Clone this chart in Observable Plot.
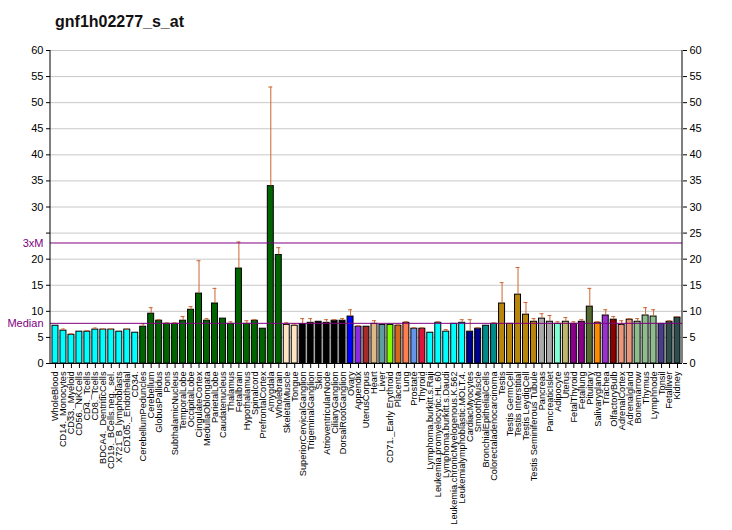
<!DOCTYPE html>
<html>
<head>
<meta charset="utf-8">
<script src="https://cdn.jsdelivr.net/npm/d3@7"></script>
<script src="https://cdn.jsdelivr.net/npm/@observablehq/plot@0.6"></script>
<style>
  body { margin: 0; background: #fff; font-family: "Liberation Sans", Arial, sans-serif; }
  #wrap { position: relative; width: 732px; height: 530px; }
  #title { position: absolute; left: 55px; top: 13px; font-size: 16px; font-weight: bold; color: #111; }
  #chart { position: absolute; left: 0; top: 0; }
</style>
</head>
<body>
<div id="wrap">
  <div id="chart"></div>
  <div id="title">gnf1h02277_s_at</div>
</div>
<script>
const names = ["WholeBlood","CD14._Monocytes","CD33._Myeloid","CD56._NKCells","CD4._Tcells","CD8._Tcells","BDCA4._DentriticCells","CD19._BCells.neg._sel.","X721_B_lymphoblasts","CD105._Endothelial","CD34.",
"CerebellumPeduncles","Cerebellum","GlobusPallidus","Pons","SubthalamicNucleus","TemporalLobe","OccipitalLobe","CingulateCortex","MedullaOblongata","ParietalLobe","Caudatenucleus","Thalamus","Fetalbrain","Hypothalamus","Spinalcord","PrefrontalCortex","Amygdala","Wholebrain",
"SkeletalMuscle","Tongue","SuperiorCervicalGanglion","TrigeminalGanglion","Skin","AtrioventricularNode","CiliaryGanglion","DorsalRootGanglion","Ovary","Appendix","UterusCorpus","Heart","Liver","CD71._Early Erythroid","Placenta","Lung","Prostate","Thyroid",
"Lymphoma.burkitt.s.Raji","Leukemia.promyelocytic.HL.60","Lymphoma.burkitt.s.Daudi","Leukemia.chronicMyelogenous.K.562","Leukemialymphoblastic.MOLT.4.","CardiacMyocytes","SmoothMuscle","BronchialEpithelialCells","Colorectaladenocarcinoma",
"Testis","Testis GermCell","Testis Interstitial","Testis LeydigCell","Testis Seminiferous Tubule","Pancreas","PancreaticIslet","Adipocyte","Uterus","FetalThyroid","Fetallung","Pituitary","Salivarygland","Trachea","OlfactoryBulb","AdrenalCortex","Adrenalgland","Bonemarrow","Thymus","Lymphnode","Tonsil","Fetalliver","Kidney"];

const values = [7.24,6.3,5.5,6.1,6.1,6.5,6.5,6.5,6.1,6.5,5.9,
7.05,9.55,8.2,7.6,7.6,8.2,10.3,13.4,8.2,11.5,8.6,7.6,18.2,7.6,8.2,6.67,34.0,20.8,
7.4,7.24,7.55,7.8,8.0,7.8,8.2,8.2,9.0,7.05,7.05,7.6,7.4,7.4,7.24,7.8,6.67,6.67,
5.9,7.8,6.1,7.6,7.8,6.1,6.67,7.24,7.6,
11.5,7.6,13.2,9.36,8.0,8.6,8.0,7.6,8.0,7.6,8.0,10.9,7.8,9.2,8.4,7.4,8.4,8.0,9.2,9.0,7.6,8.0,8.8];

const errTop = [null,6.6,5.7,null,6.3,6.8,6.6,6.6,null,6.6,null,
7.6,10.7,8.4,7.8,7.8,9.0,10.9,19.7,8.6,14.4,null,8.0,23.3,8.2,8.4,null,53.0,22.2,
7.8,7.55,8.6,8.6,null,8.4,8.4,8.6,10.3,7.24,null,8.2,null,null,7.4,8.0,6.86,6.86,
null,8.0,6.5,null,8.4,8.4,6.86,null,7.8,
15.5,null,18.4,11.7,8.6,9.55,9.2,8.0,8.8,8.0,8.4,14.4,8.0,10.3,9.0,8.2,8.6,8.6,10.7,10.3,null,8.2,9.0];

const groups = ["g01","g01","g01","g01","g01","g01","g01","g01","g01","g01","g01",
"g02","g02","g02","g02","g02","g02","g02","g02","g02","g02","g02","g02","g02","g02","g02","g02","g02","g02",
"g03","g03","g04","g04","g04","g04","g04","g04","g05","g06","g07","g08","g09","g10","g11","g12","g13","g14",
"g01","g01","g01","g01","g01","g15","g15","g16","g16",
"g17","g17","g17","g17","g17","g18","g18","g19","g20","g21","g21","g22","g23","g24","g25","g26","g26","g27","g27","g27","g28","g29","g29"];

const groupKeys = ["g01","g02","g03","g04","g05","g06","g07","g08","g09","g10","g11","g12","g13","g14","g15","g16","g17","g18","g19","g20","g21","g22","g23","g24","g25","g26","g27","g28","g29"];
const groupColors = ["#00ffff","#006400","#ffe4c4","#000000","#0000ff","#8a2be2","#a52a2a","#deb887","#5f9ea0","#7fff00","#d2691e","#ff7f50","#6495ed","#dc143c","#00008b","#008b8b","#b8860b","#a9a9a9","#7fffd4","#bdb76b","#8b008b","#556b2f","#ff8c00","#9932cc","#8b0000","#e9967a","#8fbc8f","#483d8b","#2f4f4f"];

const yTicks = [0,5,10,15,20,25,30,35,40,45,50,55,60];
const median = 7.7;
const threeM = 23.1;

const rows = names.map((n, i) => ({name: n, value: values[i], err: errTop[i], group: groups[i]}));
const errRows = rows.filter(d => d.err != null);
const purple = "#800080";
const errColor = "#cc6633";

const W = 732, H = 530, mL = 50, mR = 50, mT = 50, mB = 167;

const plot = Plot.plot({
  width: W, height: H,
  marginLeft: mL, marginRight: mR, marginTop: mT, marginBottom: mB,
  style: {fontFamily: "'Liberation Sans', Arial, sans-serif", background: "transparent", color: "#000"},
  x: {domain: names, padding: 0.25, label: null},
  y: {domain: [0, 60], label: null},
  color: {type: "ordinal", domain: groupKeys, range: groupColors},
  marks: [
    Plot.ruleY(yTicks.filter(d => d > 0), {stroke: "#c8c8c8", strokeWidth: 1}),
    Plot.barY(rows, {x: "name", y: "value", fill: "group", stroke: "#000", strokeWidth: 1}),
    Plot.ruleX(errRows, {x: "name", y1: "value", y2: "err", stroke: errColor, strokeWidth: 1}),
    Plot.tickY(errRows, {x: "name", y: "err", stroke: errColor, strokeWidth: 1, insetLeft: 1, insetRight: 1}),
    Plot.ruleY([median, threeM], {stroke: purple, strokeWidth: 1}),
    Plot.ruleY([0], {stroke: "#000", strokeWidth: 1}),
    Plot.axisY({anchor: "left", ticks: yTicks, tickSize: 4, tickPadding: 3, fontSize: 11,
      tickFormat: d => (d === 25 ? "" : String(d))}),
    Plot.axisY({anchor: "right", ticks: yTicks, tickSize: 4, tickPadding: 3, fontSize: 11,
      tickFormat: d => String(d)}),
    Plot.text(["3xM"], {frameAnchor: "left", y: [threeM], text: d => d, textAnchor: "end", dx: -7, fill: purple, fontSize: 11}),
    Plot.text(["Median"], {frameAnchor: "left", y: [median], text: d => d, textAnchor: "end", dx: -7, fill: purple, fontSize: 11}),
    Plot.axisX({anchor: "bottom", tickRotate: -90, tickSize: 5, tickPadding: 3, fontSize: 9.2})
  ]
});

// vertical axis lines on both sides of the frame
const svg = d3.select(plot);
const ys = plot.scale("y");
[mL, W - mR].forEach(x => {
  svg.append("line")
    .attr("x1", x).attr("x2", x)
    .attr("y1", ys.apply(0)).attr("y2", ys.apply(60))
    .attr("stroke", "#000").attr("stroke-width", 1);
});

document.getElementById("chart").appendChild(plot);
</script>
</body>
</html>
